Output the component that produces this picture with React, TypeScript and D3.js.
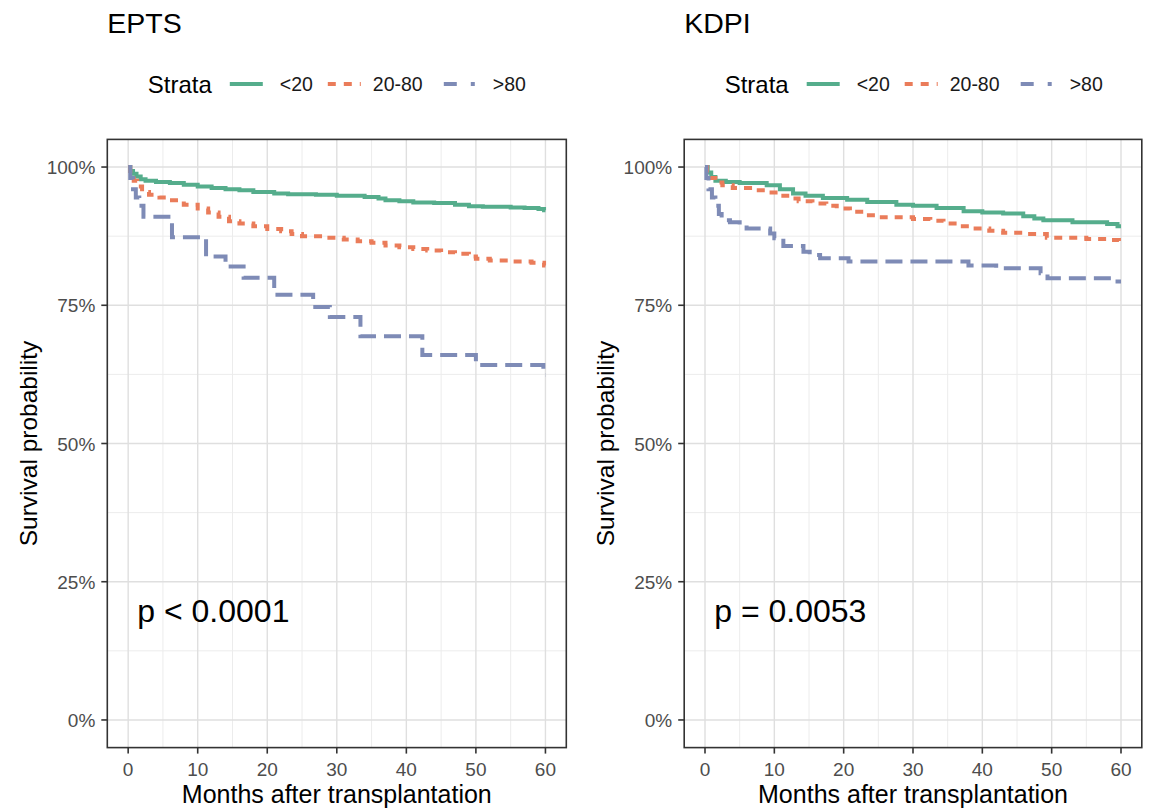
import React from "react";
import * as d3 from "d3";

// ---- data (months, survival probability) ----
const strata = ["<20", "20-80", ">80"];
const xTicks = [0, 10, 20, 30, 40, 50, 60];
const xMinor = [5, 15, 25, 35, 45, 55];
const yTicks = [0, 0.25, 0.5, 0.75, 1];
const yTickLabels = ["0%", "25%", "50%", "75%", "100%"];
const yMinor = [0.125, 0.375, 0.625, 0.875];

const eptsLow: [number, number][] = [
  [0, 1], [0.3, 0.993], [0.7, 0.988], [1.2, 0.983], [1.8, 0.978], [2.5, 0.975], [4, 0.973],
  [6, 0.971], [8, 0.968], [10, 0.965], [12, 0.962], [14, 0.96], [16, 0.958], [18, 0.955],
  [21, 0.952], [23, 0.951], [27, 0.95], [30, 0.948], [34, 0.946], [36, 0.943], [37, 0.94],
  [39, 0.938], [41, 0.936], [44, 0.935], [47, 0.932], [49, 0.929], [51, 0.928], [55, 0.927],
  [57, 0.926], [59, 0.924], [59.8, 0.922], [60, 0.922],
];
const eptsMid: [number, number][] = [
  [0, 1], [0.3, 0.985], [0.8, 0.975], [1.3, 0.965], [2, 0.955], [3, 0.95], [4.5, 0.945],
  [6, 0.94], [8, 0.932], [10, 0.925], [11.5, 0.918], [13, 0.91], [14.5, 0.902], [16, 0.898],
  [18, 0.893], [20, 0.888], [22, 0.884], [23.5, 0.879], [25, 0.875], [28, 0.872], [31, 0.869],
  [33, 0.866], [35, 0.863], [37, 0.858], [39, 0.855], [41, 0.852], [43, 0.849], [45, 0.846],
  [47, 0.843], [49, 0.838], [50, 0.834], [52, 0.831], [55, 0.829], [58, 0.827], [59.8, 0.822],
  [60, 0.822],
];
const eptsHigh: [number, number][] = [
  [0, 1], [0.3, 0.98], [0.7, 0.96], [1.1, 0.945], [1.6, 0.93], [2.2, 0.91], [6.3, 0.873],
  [11.2, 0.838], [14, 0.82], [16.6, 0.8], [21, 0.769], [26.6, 0.747], [29, 0.729],
  [33.4, 0.694], [42.3, 0.66], [50, 0.642], [59.7, 0.624], [60, 0.624],
];
const kdpiLow: [number, number][] = [
  [0, 1], [0.4, 0.99], [0.9, 0.982], [1.5, 0.975], [3, 0.973], [5, 0.971], [8.9, 0.967],
  [10.8, 0.96], [12.7, 0.952], [14.5, 0.948], [17, 0.944], [20.5, 0.941], [23.4, 0.937],
  [27.6, 0.932], [30, 0.93], [33.4, 0.926], [37.3, 0.92], [40, 0.918], [43, 0.916],
  [45.9, 0.911], [47.5, 0.907], [48.8, 0.904], [53, 0.9], [58, 0.897], [59.5, 0.893],
  [60, 0.893],
];
const kdpiMid: [number, number][] = [
  [0, 1], [0.3, 0.99], [0.8, 0.98], [1.5, 0.972], [2.5, 0.967], [4, 0.962], [6.5, 0.958],
  [9, 0.954], [11.3, 0.948], [12.5, 0.943], [13.5, 0.938], [15.5, 0.934], [17.5, 0.93],
  [19, 0.925], [20.9, 0.919], [23.3, 0.913], [25.5, 0.909], [30, 0.906], [32.5, 0.903],
  [34.4, 0.898], [36.3, 0.893], [38.7, 0.889], [41, 0.885], [43, 0.881], [46, 0.879],
  [49.3, 0.872], [55, 0.87], [58, 0.868], [59.7, 0.866], [60, 0.866],
];
const kdpiHigh: [number, number][] = [
  [0, 1], [0.2, 0.98], [0.5, 0.96], [1, 0.945], [1.5, 0.93], [2, 0.915], [2.4, 0.904],
  [3.6, 0.9], [5, 0.895], [6, 0.889], [9.4, 0.88], [10, 0.871], [11.3, 0.857], [14.2, 0.847],
  [15.1, 0.841], [16.6, 0.835], [20.7, 0.829], [38, 0.822], [42, 0.817], [48.4, 0.808],
  [49.4, 0.799], [59.5, 0.793], [60, 0.793],
];

const panelTitles = ["EPTS", "KDPI"];
const pValues = ["p < 0.0001", "p = 0.0053"];

// ---- styles ----
const colors = ["#55ad8c", "#ea7c5a", "#7e8bb6"];
const dashes = ["none", "8,7", "17,8"];
const legendDashes = ["none", "8,8", "13,14,4,20"];
const legendKeyOffsets = [0, 98, 214];
const legendLabelOffsets = [50, 45, 49];
const FONT = "'Liberation Sans', Arial, Helvetica, sans-serif";

type PanelProps = { x0: number; x1: number; title: string; pval: string; series: [number, number][][] };

function Panel({ x0, x1, title, pval, series }: PanelProps) {
  const top = 139.4;
  const bottom = 747.6;
  const x = d3.scaleLinear().domain([-3, 63]).range([x0, x1]);
  const y = d3.scaleLinear().domain([-0.05, 1.05]).range([bottom, top]);
  const line = d3
    .line<[number, number]>()
    .x((d) => x(d[0]))
    .y((d) => y(d[1]))
    .curve(d3.curveStepAfter);
  const mid = (x0 + x1) / 2;
  const lx = x0 + 40.5;

  return (
    <g>
      <text x={x0} y={33} fontSize={28.5} fill="#000" fontFamily={FONT}>{title}</text>
      {/* legend */}
      <text x={lx} y={93} fontSize={24} fill="#000" fontFamily={FONT}>Strata</text>
      {strata.map((s, i) => {
        const kx = lx + 82 + legendKeyOffsets[i];
        return (
          <g key={s}>
            <line x1={kx} x2={kx + 33} y1={84} y2={84} stroke={colors[i]} strokeWidth={4}
              strokeDasharray={legendDashes[i]} />
            <text x={kx + legendLabelOffsets[i]} y={91} fontSize={19.5} fill="#1a1a1a" fontFamily={FONT}>{s}</text>
          </g>
        );
      })}
      {/* panel background + grid */}
      <rect x={x0} y={top} width={x1 - x0} height={bottom - top} fill="#fff" />
      {xMinor.map((t) => (
        <line key={"xm" + t} x1={x(t)} x2={x(t)} y1={top} y2={bottom} stroke="#ececec" strokeWidth={1} />
      ))}
      {yMinor.map((t) => (
        <line key={"ym" + t} x1={x0} x2={x1} y1={y(t)} y2={y(t)} stroke="#ececec" strokeWidth={1} />
      ))}
      {xTicks.map((t) => (
        <line key={"xg" + t} x1={x(t)} x2={x(t)} y1={top} y2={bottom} stroke="#dfdfdf" strokeWidth={1.4} />
      ))}
      {yTicks.map((t) => (
        <line key={"yg" + t} x1={x0} x2={x1} y1={y(t)} y2={y(t)} stroke="#dfdfdf" strokeWidth={1.4} />
      ))}
      {/* curves */}
      {series.map((d, i) => (
        <path key={i} d={line(d) || ""} fill="none" stroke={colors[i]} strokeWidth={4}
          strokeDasharray={dashes[i]} strokeLinecap="butt" strokeLinejoin="miter" />
      ))}
      <text x={x0 + 30} y={622} fontSize={32} fill="#000" fontFamily={FONT}>{pval}</text>
      {/* border */}
      <rect x={x0} y={top} width={x1 - x0} height={bottom - top} fill="none" stroke="#333" strokeWidth={1.6} />
      {/* y axis */}
      {yTicks.map((t, i) => (
        <g key={"yt" + t}>
          <line x1={x0 - 6} x2={x0} y1={y(t)} y2={y(t)} stroke="#333" strokeWidth={1.6} />
          <text x={x0 - 12} y={y(t) + 7} textAnchor="end" fontSize={19} fill="#4d4d4d" fontFamily={FONT}>
            {yTickLabels[i]}
          </text>
        </g>
      ))}
      {/* x axis */}
      {xTicks.map((t) => (
        <g key={"xt" + t}>
          <line x1={x(t)} x2={x(t)} y1={bottom} y2={bottom + 6} stroke="#333" strokeWidth={1.6} />
          <text x={x(t)} y={776} textAnchor="middle" fontSize={19} fill="#4d4d4d" fontFamily={FONT}>{t}</text>
        </g>
      ))}
      <text x={mid} y={803} textAnchor="middle" fontSize={25} fill="#000" fontFamily={FONT}>
        Months after transplantation
      </text>
      <text transform={`translate(${x0 - 70},${(top + bottom) / 2}) rotate(-90)`} textAnchor="middle"
        fontSize={24.5} fill="#000" fontFamily={FONT}>
        Survival probability
      </text>
    </g>
  );
}

export default function App() {
  return (
    <svg width={1151} height={809} style={{ position: "absolute", left: 0, top: 0, background: "#fff" }}>
      <rect width={1151} height={809} fill="#fff" />
      <Panel x0={107.3} x1={566.3} title={panelTitles[0]} pval={pValues[0]} series={[eptsLow, eptsMid, eptsHigh]} />
      <Panel x0={684.2} x1={1141.8} title={panelTitles[1]} pval={pValues[1]} series={[kdpiLow, kdpiMid, kdpiHigh]} />
    </svg>
  );
}
